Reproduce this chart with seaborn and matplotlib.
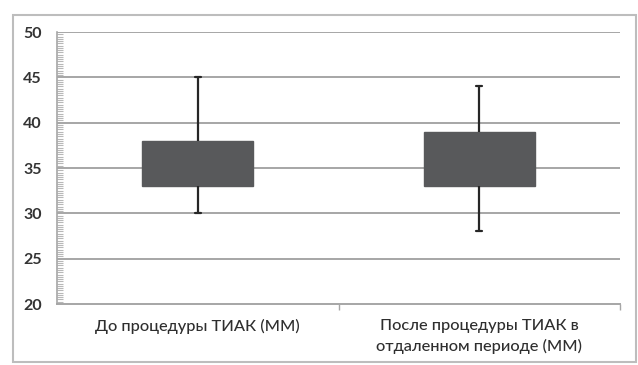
import numpy as np
import pandas as pd
import matplotlib
matplotlib.use("Agg")
import matplotlib.pyplot as plt
from matplotlib.patches import Rectangle
from matplotlib.ticker import MultipleLocator, FixedLocator
import seaborn as sns

# Five-number summaries per group (mm)
categories = ["До процедуры ТИАК (ММ)", "После процедуры ТИАК в\nотдаленном периоде (ММ)"]
whisker_low = [30, 28]
q1 = [33, 33]
q3 = [38, 39]
whisker_high = [45, 44]
y_ticks = [20, 25, 30, 35, 40, 45, 50]

# Long table: min, Q1, Q1, Q3, max gives exact quartiles with linear interpolation
rows = []
for cat, lo, a, b, hi in zip(categories, whisker_low, q1, q3, whisker_high):
    for v in (lo, a, a, b, hi):
        rows.append({"group": cat, "value": v})
df = pd.DataFrame(rows)

sns.set_theme(style="white")
plt.rcParams["font.family"] = ["Lato", "DejaVu Sans"]

fig = plt.figure(figsize=(6.38, 3.65), dpi=100)
ax = fig.add_axes([57 / 638, 1 - 304 / 365, (620 - 57) / 638, (304 - 32) / 365])

box_col = "#58595b"
line_col = "#262626"
grid_col = "#a6a6a6"

sns.boxplot(
    data=df, x="group", y="value", order=categories, ax=ax,
    whis=(0, 100), width=0.395, color=box_col, linecolor=line_col,
    boxprops=dict(facecolor=box_col, edgecolor=box_col, linewidth=1),
    medianprops=dict(linewidth=0),
    whiskerprops=dict(color=line_col, linewidth=1.6),
    capprops=dict(color=line_col, linewidth=1.6),
    capwidths=0.022, showfliers=False,
)

ax.set_xlim(-0.5, 1.5)
ax.set_ylim(20, 50)
ax.set_xlabel("")
ax.set_ylabel("")

# horizontal gridlines behind the boxes
for y in y_ticks[1:]:
    ax.axhline(y, color=grid_col, linewidth=1.4, zorder=0)

for s in ("top", "right"):
    ax.spines[s].set_visible(False)
ax.spines["left"].set_color(grid_col)
ax.spines["bottom"].set_color(grid_col)
ax.spines["left"].set_linewidth(1.2)
ax.spines["bottom"].set_linewidth(1.4)

ax.yaxis.set_major_locator(FixedLocator(y_ticks))
ax.yaxis.set_minor_locator(MultipleLocator(0.25))
ax.tick_params(axis="y", which="major", direction="out", length=5, width=1,
               color=grid_col, labelsize=11.5, labelcolor="#333333", pad=6)
ax.tick_params(axis="y", which="minor", direction="in", length=4, width=0.8,
               color="#b8b8b8", left=True)
for lab in ax.get_yticklabels():
    lab.set_fontweight("bold")

ax.xaxis.set_minor_locator(FixedLocator([0.5, 1.5]))
ax.tick_params(axis="x", which="minor", direction="out", length=4, width=1,
               color=grid_col, bottom=True)
ax.tick_params(axis="x", which="major", length=0, labelsize=11.8,
               labelcolor="#2e2e2e", pad=11)
for lab in ax.get_xticklabels():
    lab.set_linespacing(1.45)
    lab.set_fontweight("medium")

# outer chart frame
fig.patches.append(Rectangle((13 / 638, 1 - 362 / 365), 623 / 638, 347 / 365,
                             transform=fig.transFigure, fill=False,
                             edgecolor="#bdbdbd", linewidth=1.5))

fig.savefig("out.png", dpi=100)
